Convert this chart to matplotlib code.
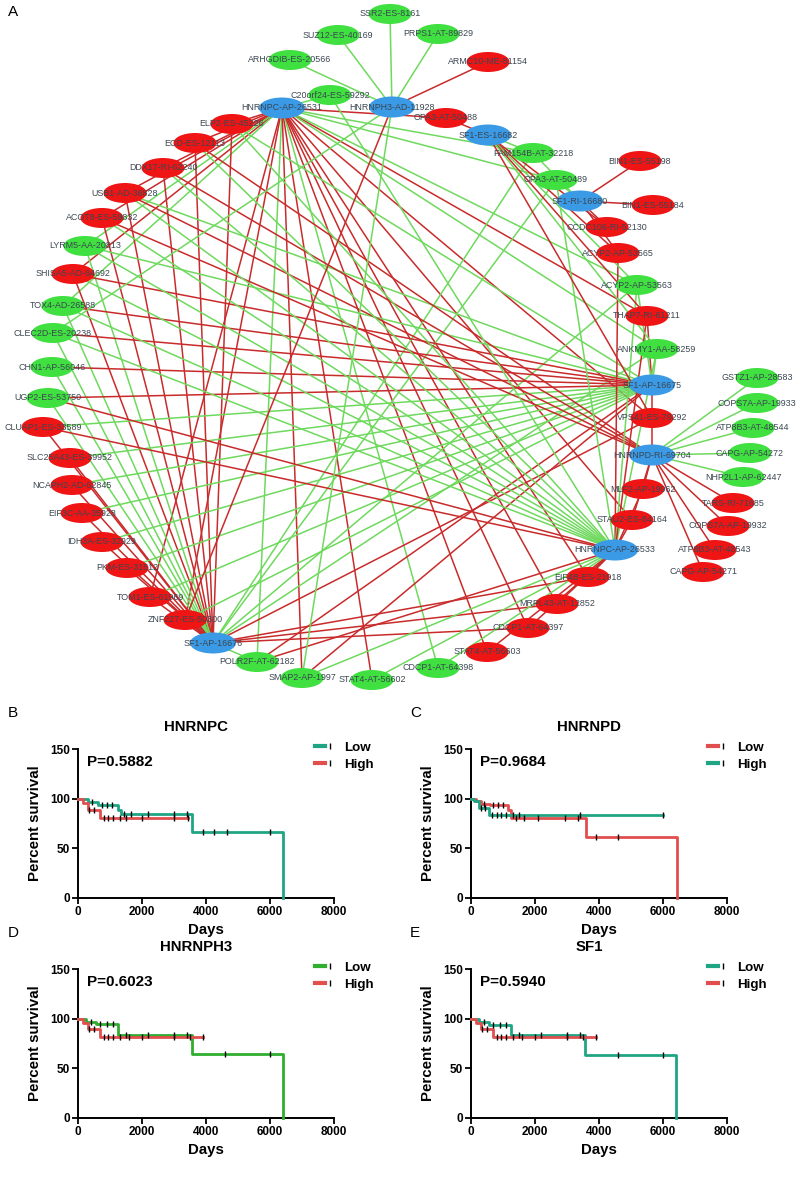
import matplotlib
matplotlib.use("Agg")
import matplotlib.pyplot as plt
from matplotlib.patches import Ellipse
from matplotlib.lines import Line2D
from matplotlib.legend_handler import HandlerTuple
import numpy as np

plt.rcParams['font.family'] = ['Liberation Sans', 'DejaVu Sans']

# ---------------- network data ----------------
node_names = [
    "SSR2-ES-8161", "SUZ12-ES-40169", "PRPS1-AT-89829", "ARHGDIB-ES-20566", "ARMC10-ME-81154",
    "C20orf24-ES-59292", "HNRNPC-AP-26531", "HNRNPH3-AD-11928", "OPA3-AT-50488", "SF1-ES-16682",
    "FAM154B-AT-32218", "OPA3-AT-50489", "SF1-RI-16680", "BIN1-ES-55198", "BIN1-ES-55184",
    "CCDC106-RI-52130", "ACYP2-AP-53565", "ACYP2-AP-53563", "THAP7-RI-61211", "ANKMY1-AA-58259",
    "SF1-AP-16675", "GSTZ1-AP-28583", "COPS7A-AP-19933", "ATP8B3-AT-48544", "CAPG-AP-54272",
    "NHP2L1-AP-62447", "VPS41-ES-79292", "HNRNPD-RI-69704", "MLF2-AP-19962", "TARS-RI-71685",
    "COPS7A-AP-19932", "ATP8B3-AT-48543", "CAPG-AP-54271", "STAU2-ES-84164", "HNRNPC-AP-26533",
    "EIF4B-ES-21918", "MRPL43-AT-12852", "CDCP1-AT-64397", "STAT4-AT-56603", "CDCP1-AT-64398",
    "STAT4-AT-56602", "SMAP2-AP-1997", "POLR2F-AT-62182", "SF1-AP-16676", "ZNF227-ES-50300",
    "TOM1-ES-61969", "PKM-ES-31512", "IDH3A-ES-32929", "EIF3C-AA-35928", "NCAPH2-AD-62845",
    "SLC25A43-ES-39952", "CLUAP1-ES-33589", "UGP2-ES-53750", "CHN1-AP-56046", "CLEC2D-ES-20238",
    "TOX4-AD-26588", "SHISA5-AD-64692", "LYRM5-AA-20813", "ACOT8-ES-59832", "USB1-AD-36828",
    "DDX17-RI-62240", "ECD-ES-12113", "ELP2-ES-45226",
]
node_kind = [
    "g", "g", "g", "g", "r",
    "g", "b", "b", "r", "b",
    "g", "g", "b", "r", "r",
    "r", "r", "g", "r", "g",
    "b", "g", "g", "g", "g",
    "g", "r", "b", "r", "r",
    "r", "r", "r", "r", "b",
    "r", "r", "r", "r", "g",
    "g", "g", "g", "b", "r",
    "r", "r", "r", "r", "r",
    "r", "r", "g", "g", "g",
    "g", "r", "g", "r", "r",
    "r", "r", "r",
]
# layout (pixel-like coordinates of the circular network layout)
node_x = [390, 338, 438, 290, 488, 330, 282, 392, 446, 488,
          533, 556, 580, 640, 653, 607, 618, 637, 647, 657,
          652, 757, 757, 753, 750, 743, 652, 652, 643, 733,
          728, 715, 703, 632, 615, 588, 557, 528, 487, 438,
          372, 302, 257, 213, 185, 150, 127, 102, 82, 72,
          70, 43, 48, 52, 53, 63, 73, 85, 102, 125,
          163, 195, 232]
node_y = [14, 35, 34, 60, 62, 95, 108, 107, 118, 135,
          153, 180, 201, 161, 205, 227, 253, 285, 316, 349,
          385, 378, 403, 428, 453, 477, 418, 455, 489, 503,
          526, 550, 572, 520, 550, 577, 604, 628, 652, 668,
          680, 678, 662, 643, 620, 597, 568, 542, 513, 485,
          458, 427, 398, 367, 333, 306, 274, 246, 218, 193,
          168, 143, 124]

# edges: hub -> list of (target, sign)  r = red edge, g = green edge
edges_HNRNPC_26531 = [
    ("ELP2-ES-45226", "r"), ("ECD-ES-12113", "r"), ("DDX17-RI-62240", "r"), ("USB1-AD-36828", "r"),
    ("ACOT8-ES-59832", "r"), ("SHISA5-AD-64692", "r"), ("LYRM5-AA-20813", "g"), ("TOX4-AD-26588", "g"),
    ("C20orf24-ES-59292", "g"), ("TOM1-ES-61969", "r"), ("ZNF227-ES-50300", "r"), ("POLR2F-AT-62182", "g"),
    ("SMAP2-AP-1997", "r"), ("STAT4-AT-56602", "r"), ("CDCP1-AT-64398", "g"), ("STAT4-AT-56603", "r"),
    ("CDCP1-AT-64397", "r"), ("MRPL43-AT-12852", "r"), ("EIF4B-ES-21918", "r"), ("OPA3-AT-50488", "r"),
    ("FAM154B-AT-32218", "g"), ("OPA3-AT-50489", "g"), ("THAP7-RI-61211", "r"), ("ANKMY1-AA-58259", "g"),
    ("VPS41-ES-79292", "r"), ("STAU2-ES-84164", "r"), ("ACYP2-AP-53563", "g"),
]
edges_SF1_16676 = [
    ("ELP2-ES-45226", "r"), ("ECD-ES-12113", "r"), ("DDX17-RI-62240", "r"), ("USB1-AD-36828", "r"),
    ("ACOT8-ES-59832", "r"), ("SHISA5-AD-64692", "r"), ("LYRM5-AA-20813", "g"), ("TOX4-AD-26588", "g"),
    ("CLEC2D-ES-20238", "g"), ("CHN1-AP-56046", "g"), ("UGP2-ES-53750", "g"), ("CLUAP1-ES-33589", "r"),
    ("SLC25A43-ES-39952", "r"), ("NCAPH2-AD-62845", "r"), ("EIF3C-AA-35928", "r"), ("IDH3A-ES-32929", "r"),
    ("PKM-ES-31512", "r"), ("TOM1-ES-61969", "r"), ("ZNF227-ES-50300", "r"), ("POLR2F-AT-62182", "g"),
    ("CDCP1-AT-64397", "r"), ("MRPL43-AT-12852", "r"), ("EIF4B-ES-21918", "r"), ("VPS41-ES-79292", "r"),
    ("FAM154B-AT-32218", "g"), ("OPA3-AT-50489", "g"), ("ACYP2-AP-53563", "g"), ("ANKMY1-AA-58259", "g"),
]
edges_SF1_16675 = [
    ("SHISA5-AD-64692", "r"), ("TOX4-AD-26588", "r"), ("CLEC2D-ES-20238", "r"), ("CHN1-AP-56046", "r"),
    ("UGP2-ES-53750", "r"), ("LYRM5-AA-20813", "g"), ("CLUAP1-ES-33589", "g"), ("SLC25A43-ES-39952", "g"),
    ("NCAPH2-AD-62845", "g"), ("EIF3C-AA-35928", "g"), ("IDH3A-ES-32929", "g"), ("PKM-ES-31512", "g"),
    ("TOM1-ES-61969", "g"), ("ZNF227-ES-50300", "g"), ("POLR2F-AT-62182", "r"), ("SMAP2-AP-1997", "r"),
    ("ANKMY1-AA-58259", "g"), ("THAP7-RI-61211", "r"), ("VPS41-ES-79292", "r"), ("ACYP2-AP-53563", "g"),
    ("ELP2-ES-45226", "g"), ("USB1-AD-36828", "g"),
]
edges_HNRNPD_69704 = [
    ("GSTZ1-AP-28583", "g"), ("COPS7A-AP-19933", "g"), ("ATP8B3-AT-48544", "g"), ("CAPG-AP-54272", "g"),
    ("NHP2L1-AP-62447", "g"), ("TARS-RI-71685", "r"), ("COPS7A-AP-19932", "r"), ("ATP8B3-AT-48543", "r"),
    ("CAPG-AP-54271", "r"), ("VPS41-ES-79292", "r"), ("MLF2-AP-19962", "r"), ("STAU2-ES-84164", "r"),
    ("ECD-ES-12113", "r"), ("DDX17-RI-62240", "r"), ("USB1-AD-36828", "r"), ("ACOT8-ES-59832", "r"),
]
edges_HNRNPC_26533 = [
    ("STAU2-ES-84164", "r"), ("MLF2-AP-19962", "r"), ("EIF4B-ES-21918", "r"), ("MRPL43-AT-12852", "r"),
    ("CDCP1-AT-64397", "r"), ("STAT4-AT-56603", "r"), ("ACYP2-AP-53565", "r"), ("OPA3-AT-50489", "g"),
    ("ANKMY1-AA-58259", "g"), ("ACYP2-AP-53563", "g"), ("THAP7-RI-61211", "r"), ("ELP2-ES-45226", "g"),
    ("ECD-ES-12113", "g"), ("DDX17-RI-62240", "g"), ("USB1-AD-36828", "g"), ("ACOT8-ES-59832", "g"),
    ("LYRM5-AA-20813", "g"), ("SHISA5-AD-64692", "g"), ("TOX4-AD-26588", "g"), ("CLEC2D-ES-20238", "g"),
    ("C20orf24-ES-59292", "g"), ("UGP2-ES-53750", "r"), ("CLUAP1-ES-33589", "r"), ("POLR2F-AT-62182", "r"),
    ("SMAP2-AP-1997", "g"), ("STAT4-AT-56602", "g"), ("CDCP1-AT-64398", "g"),
]
edges_SF1_16682 = [
    ("OPA3-AT-50488", "r"), ("FAM154B-AT-32218", "g"), ("CCDC106-RI-52130", "r"), ("ACYP2-AP-53565", "r"),
    ("ACYP2-AP-53563", "g"), ("THAP7-RI-61211", "r"), ("ANKMY1-AA-58259", "g"), ("VPS41-ES-79292", "r"),
]
edges_SF1_16680 = [
    ("BIN1-ES-55198", "r"), ("BIN1-ES-55184", "r"), ("CCDC106-RI-52130", "r"), ("OPA3-AT-50489", "g"),
    ("ACYP2-AP-53565", "r"), ("FAM154B-AT-32218", "g"),
]
edges_HNRNPH3_11928 = [
    ("SSR2-ES-8161", "g"), ("SUZ12-ES-40169", "g"), ("PRPS1-AT-89829", "g"), ("ARHGDIB-ES-20566", "g"),
    ("ARMC10-ME-81154", "r"), ("CLEC2D-ES-20238", "g"), ("SMAP2-AP-1997", "g"), ("ZNF227-ES-50300", "r"),
]
hub_edges = {
    "HNRNPC-AP-26531": edges_HNRNPC_26531,
    "SF1-AP-16676": edges_SF1_16676,
    "SF1-AP-16675": edges_SF1_16675,
    "HNRNPD-RI-69704": edges_HNRNPD_69704,
    "HNRNPC-AP-26533": edges_HNRNPC_26533,
    "SF1-ES-16682": edges_SF1_16682,
    "SF1-RI-16680": edges_SF1_16680,
    "HNRNPH3-AD-11928": edges_HNRNPH3_11928,
}

# ---------------- survival data ----------------
days_ticks = [0, 2000, 4000, 6000, 8000]
surv_ticks = [0, 50, 100, 150]

B_title, B_p = "HNRNPC", "P=0.5882"
B_low_t = [0, 310, 640, 1250, 1330, 3550, 6400]
B_low_s = [100, 96.6, 93.6, 88.6, 84.6, 66.8, 0]
B_low_cens = [450, 750, 900, 1050, 1450, 1650, 2200, 3000, 3400, 3900, 4250, 4650, 6000]
B_high_t = [0, 150, 300, 700, 3450]
B_high_s = [100, 96, 89, 81, 81]
B_high_cens = [350, 500, 800, 950, 1100, 1300, 1500, 2000, 3000, 3450]

C_title, C_p = "HNRNPD", "P=0.9684"
C_low_t = [0, 150, 300, 600, 1150, 1250, 3600, 6450]
C_low_s = [100, 98, 95, 94, 89, 81, 61, 0]
C_low_cens = [400, 700, 850, 1000, 1400, 1650, 2100, 2950, 3330, 3900, 4580]
C_high_t = [0, 100, 250, 550, 6000]
C_high_s = [100, 98, 91, 84, 84]
C_high_cens = [300, 450, 650, 800, 950, 1100, 1300, 1500, 3420, 6000]

D_title, D_p = "HNRNPH3", "P=0.6023"
D_low_t = [0, 250, 550, 1250, 3550, 6400]
D_low_s = [100, 97, 95, 84, 64, 0]
D_low_cens = [400, 700, 900, 1100, 1500, 2200, 3000, 3400, 4600, 6000]
D_high_t = [0, 150, 300, 700, 3900]
D_high_s = [100, 96, 90, 82, 82]
D_high_cens = [350, 500, 800, 950, 1100, 1300, 1600, 2000, 3000, 3500, 3900]

E_title, E_p = "SF1", "P=0.5940"
E_low_t = [0, 250, 550, 1250, 3550, 6400]
E_low_s = [100, 97, 94, 84, 63, 0]
E_low_cens = [400, 700, 900, 1100, 1500, 2200, 3000, 3400, 4600, 6000]
E_high_t = [0, 150, 300, 700, 3900]
E_high_s = [100, 96, 90, 82, 82]
E_high_cens = [350, 500, 800, 950, 1100, 1300, 1600, 2000, 3000, 3500, 3900]

# ---------------- drawing ----------------
W, H = 800, 1197
fig = plt.figure(figsize=(W / 100, H / 100), dpi=100)

def fx(px):
    return px / W

def fy(py):
    return 1 - py / H

# network axes (data units == pixels)
NET_H = 700
axn = fig.add_axes([0, fy(NET_H), 1, NET_H / H])
axn.set_xlim(0, W)
axn.set_ylim(NET_H, 0)
axn.axis('off')

pos = {n: (x, y) for n, x, y in zip(node_names, node_x, node_y)}
edge_col = {"r": "#c92b2b", "g": "#6fd95e"}
node_col = {"r": "#f01515", "g": "#3fe03f", "b": "#3a9ae6"}

for hub, lst in hub_edges.items():
    hx, hy = pos[hub]
    for tgt, sgn in lst:
        tx, ty = pos[tgt]
        axn.plot([hx, tx], [hy, ty], color=edge_col[sgn], lw=1.1, zorder=1,
                 solid_capstyle='round')

for n, k in zip(node_names, node_kind):
    x, y = pos[n]
    w, h = (46, 21) if k == "b" else (43, 20)
    axn.add_patch(Ellipse((x, y), w, h, facecolor=node_col[k], edgecolor='none', zorder=2))
    axn.text(x, y, n, fontsize=6.4, color='#3b4651', ha='center', va='center', zorder=3)

fig.text(fx(8), fy(12), "A", fontsize=11, ha='left', va='center')

TEAL = "#1fa584"
RED = "#e04e4e"
GREEN = "#2fae2f"

def km_panel(letter, letter_x, left, top, title, ptxt, low, high, low_col, high_col):
    right = left + 256
    bottom = top + 149
    ax = fig.add_axes([fx(left), fy(bottom), (right - left) / W, (bottom - top) / H])
    ax.set_xlim(0, 8000)
    ax.set_ylim(0, 150)
    ax.set_xticks(days_ticks)
    ax.set_yticks(surv_ticks)
    ax.set_xticklabels([str(v) for v in days_ticks], fontsize=8.5, fontweight='bold')
    ax.set_yticklabels([str(v) for v in surv_ticks], fontsize=8.5, fontweight='bold')
    for s in ['top', 'right']:
        ax.spines[s].set_visible(False)
    for s in ['left', 'bottom']:
        ax.spines[s].set_linewidth(1.4)
    ax.tick_params(direction='out', length=4, width=1.3, pad=2)
    handles = []
    for (t, s, cens), col in [(low, low_col), (high, high_col)]:
        ax.step(t, s, where='post', color=col, lw=2.0, zorder=3, clip_on=False)
        ct = np.array(cens, dtype=float)
        idx = np.searchsorted(np.array(t), ct, side='right') - 1
        cs = np.array(s)[idx]
        ax.plot(ct, cs, linestyle='none', marker='|', color='black', markersize=4.5,
                markeredgewidth=1.0, zorder=4, clip_on=False)
        handles.append((Line2D([], [], color=col, lw=3), Line2D([], [], ls='none', marker='|',
                                                                 color='black', markersize=4.5,
                                                                 markeredgewidth=1.0)))
    ax.legend(handles, ["Low", "High"], handler_map={tuple: HandlerTuple(ndivide=None, pad=0)},
              loc='upper left', bbox_to_anchor=(237 / 256, 1.05), frameon=False,
              prop={'weight': 'bold', 'size': 9.6}, handlelength=1.5, handletextpad=0.7,
              borderaxespad=0, borderpad=0, labelspacing=0.35)
    fig.text(fx(left + 118), fy(top - 22), title, fontsize=10.8, fontweight='bold', ha='center', va='center')
    ax.text(0.035, 0.91, ptxt, transform=ax.transAxes, fontsize=11, fontweight='bold', ha='left', va='center')
    fig.text(fx(left + 128), fy(bottom + 32), "Days", fontsize=10.8, fontweight='bold', ha='center', va='center')
    fig.text(fx(left - 43), fy(top + 74), "Percent survival", fontsize=10.8, fontweight='bold',
             rotation=90, ha='center', va='center')
    fig.text(fx(letter_x), fy(top - 36), letter, fontsize=11, ha='left', va='center')
    return ax

km_panel("B", 8, 78, 749, B_title, B_p, (B_low_t, B_low_s, B_low_cens), (B_high_t, B_high_s, B_high_cens), TEAL, RED)
km_panel("C", 410, 471, 749, C_title, C_p, (C_low_t, C_low_s, C_low_cens), (C_high_t, C_high_s, C_high_cens), RED, TEAL)
km_panel("D", 8, 78, 969, D_title, D_p, (D_low_t, D_low_s, D_low_cens), (D_high_t, D_high_s, D_high_cens), GREEN, RED)
km_panel("E", 410, 471, 969, E_title, E_p, (E_low_t, E_low_s, E_low_cens), (E_high_t, E_high_s, E_high_cens), TEAL, RED)

fig.savefig("out.png", dpi=100)
